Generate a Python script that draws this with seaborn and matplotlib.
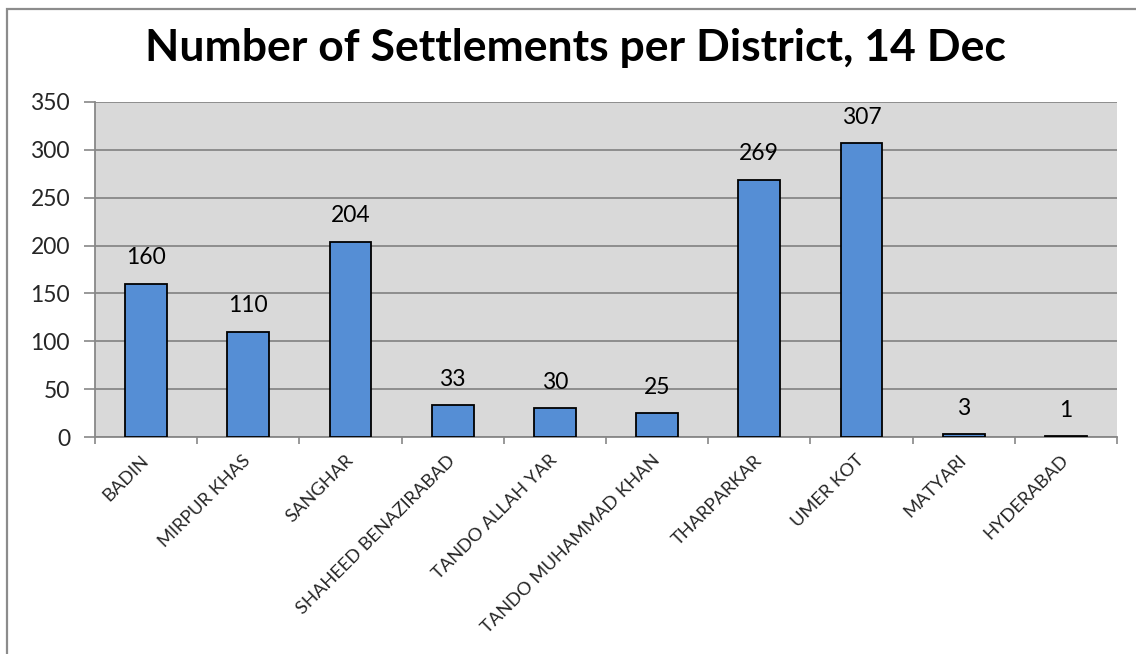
import matplotlib
matplotlib.use("Agg")
import matplotlib.pyplot as plt
import seaborn as sns
import pandas as pd
from matplotlib.patches import Rectangle
from matplotlib.ticker import FixedLocator

districts = ["BADIN", "MIRPUR KHAS", "SANGHAR", "SHAHEED BENAZIRABAD",
             "TANDO ALLAH YAR", "TANDO MUHAMMAD KHAN", "THARPARKAR",
             "UMER KOT", "MATYARI", "HYDERABAD"]
settlements = [160, 110, 204, 33, 30, 25, 269, 307, 3, 1]
y_ticks = [0, 50, 100, 150, 200, 250, 300, 350]
title = "Number of Settlements per District, 14 Dec"

df = pd.DataFrame({"district": districts, "settlements": settlements})

sns.set_theme(style="white")
plt.rcParams["font.family"] = ["Lato", "DejaVu Sans"]

W, H = 1136, 654
fig = plt.figure(figsize=(W / 100, H / 100), dpi=100)
ax = fig.add_axes([95 / W, 1 - 437 / H, (1117 - 95) / W, (437 - 102) / H])

ax.set_facecolor("#d9d9d9")
sns.barplot(data=df, x="district", y="settlements", ax=ax, color="#558ed5",
            saturation=1, width=0.41, edgecolor="black", linewidth=1.3, zorder=3)

ax.set_ylim(0, 350)
ax.set_xlim(-0.5, len(districts) - 0.5)
ax.set_yticks(y_ticks)
ax.yaxis.grid(True, color="#888888", linewidth=1.3, zorder=0)
ax.set_axisbelow(True)
ax.tick_params(axis="y", length=8, width=1.2, color="#888888", labelsize=16.5,
               pad=10, left=True)

ax.set_xticks(range(len(districts)))
ax.set_xticklabels(districts, rotation=45, ha="right", va="center",
                   rotation_mode="anchor", fontsize=13.2)
ax.tick_params(axis="x", length=0, pad=15)
ax.xaxis.set_minor_locator(FixedLocator([i - 0.5 for i in range(len(districts) + 1)]))
ax.tick_params(axis="x", which="minor", length=5, width=1.2, color="#888888", bottom=True)

for side in ["top", "right"]:
    ax.spines[side].set_visible(False)
for side in ["left", "bottom"]:
    ax.spines[side].set_color("#888888")
    ax.spines[side].set_linewidth(1.3)

for i, v in enumerate(settlements):
    ax.annotate(f"{v}", (i, v), xytext=(0, 26), textcoords="offset pixels",
                ha="center", va="center", fontsize=16.5, color="black")

ax.set_xlabel("")
ax.set_ylabel("")

fig.text(0.5 * (148 + 1003) / W, 1 - 48 / H, title, ha="center", va="center",
         fontsize=32, fontweight="bold", color="black")

fig.patches.append(Rectangle((6.5 / W, -0.1), 1.2, 1 - 9.5 / H + 0.1,
                             transform=fig.transFigure, fill=False,
                             edgecolor="#8c8c8c", linewidth=1.6))

fig.savefig("out.png", dpi=100)
